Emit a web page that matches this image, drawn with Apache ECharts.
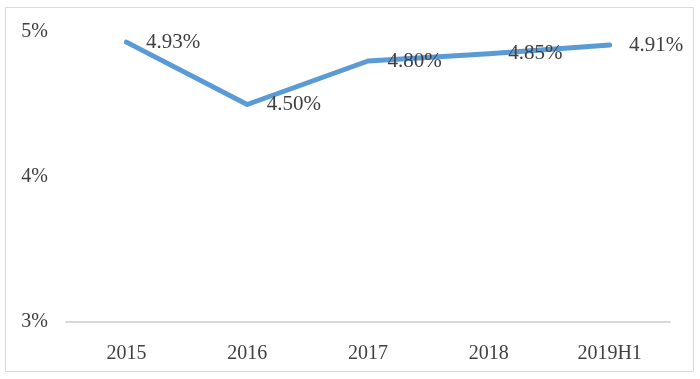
<!DOCTYPE html>
<html><head><meta charset="utf-8">
<script src="https://cdn.jsdelivr.net/npm/echarts@6/dist/echarts.min.js"></script>
<style>html,body{margin:0;padding:0;background:#fff}#c{width:700px;height:379px}</style>
</head><body><div id="c"></div>
<script>
var categories = ['2015', '2016', '2017', '2018', '2019H1'];
var values = [4.93, 4.50, 4.80, 4.85, 4.91];
var yTicks = [3, 4, 5];

var chart = echarts.init(document.getElementById('c'), null, {renderer: 'canvas'});
var font = 'Liberation Serif';
chart.setOption({
  animation: false,
  graphic: [{
    type: 'rect', shape: {x: 5.5, y: 7.5, width: 688, height: 364},
    style: {fill: 'none', stroke: '#d9d9d9', lineWidth: 1}, silent: true
  }],
  grid: {left: 66, right: 30, top: 32, bottom: 57},
  xAxis: {
    type: 'category', data: categories, boundaryGap: true,
    axisLine: {show: true, lineStyle: {color: '#d9d9d9', width: 2}},
    axisTick: {show: false},
    axisLabel: {color: '#404040', fontFamily: font, fontSize: 20, margin: 22}
  },
  yAxis: {
    type: 'value', min: yTicks[0], max: yTicks[yTicks.length - 1], interval: 1,
    axisLine: {show: false}, axisTick: {show: false}, splitLine: {show: false},
    axisLabel: {color: '#404040', fontFamily: font, fontSize: 20, margin: 18,
      formatter: function (v) { return v + '%'; }}
  },
  series: [{
    type: 'line', data: values, symbol: 'circle', symbolSize: 1, showSymbol: true,
    itemStyle: {color: 'rgba(0,0,0,0)'},
    lineStyle: {color: '#5B9BD5', width: 5, cap: 'round', join: 'round'},
    label: {show: true, position: 'right', distance: 19, color: '#404040',
      fontFamily: font, fontSize: 21,
      formatter: function (p) { return p.value.toFixed(2) + '%'; }}
  }]
});
</script></body></html>
